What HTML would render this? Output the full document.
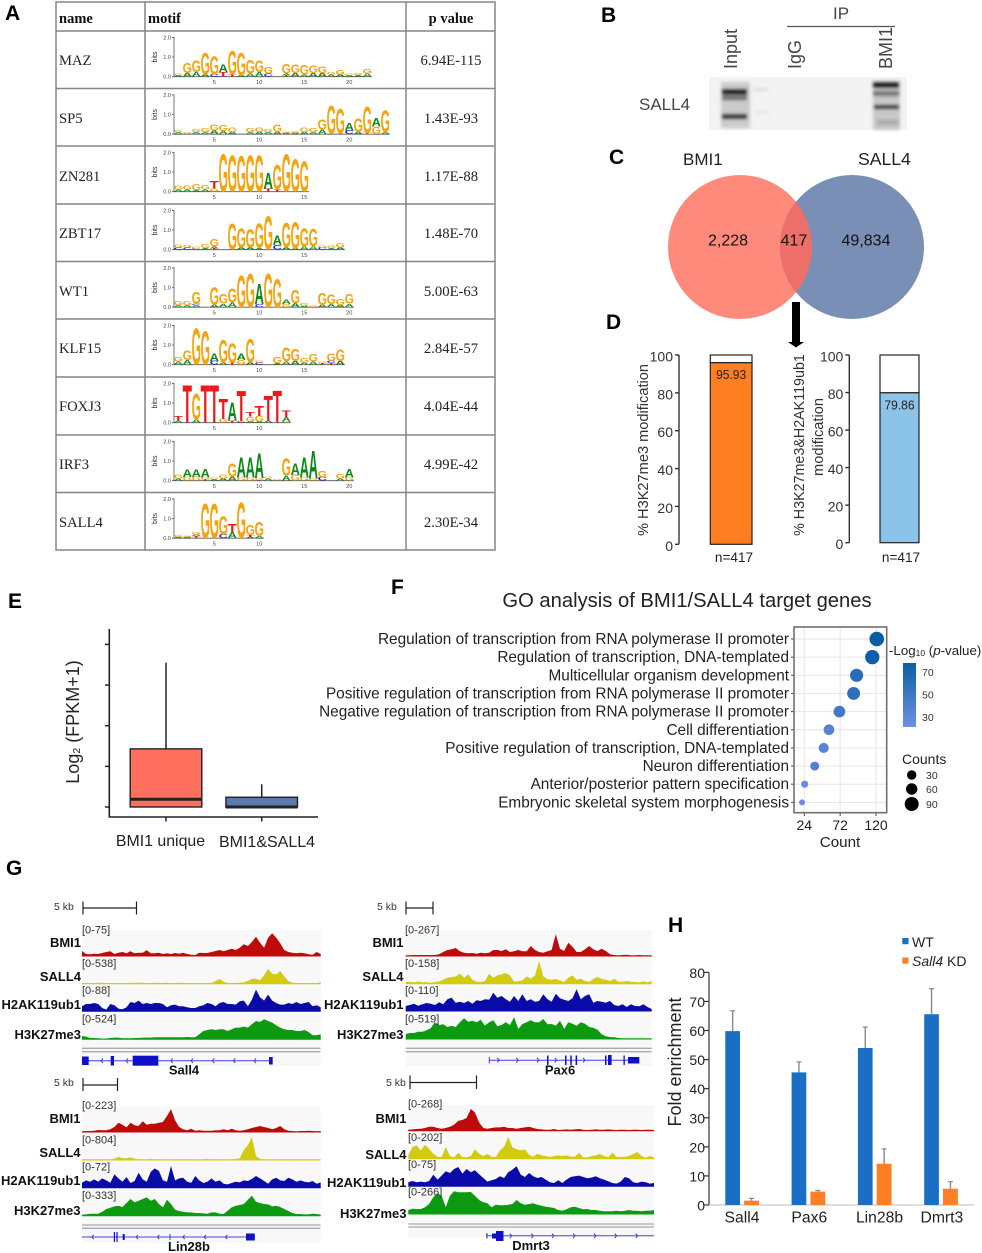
<!DOCTYPE html>
<html lang="en">
<head>
<meta charset="utf-8">
<title>BMI1 and SALL4 figure</title>
<style>
html,body{margin:0;padding:0;background:#fff;}
svg{display:block;font-family:"Liberation Sans",sans-serif;}
.serif{font-family:"Liberation Serif",serif;}
.panel{font-weight:bold;font-size:21px;fill:#000;}
.row{font-family:"Liberation Serif",serif;font-size:14.6px;fill:#222;}
.pv{font-family:"Liberation Serif",serif;font-size:14.7px;fill:#222;text-anchor:middle;}
.tl{font-weight:bold;font-size:13px;fill:#111;text-anchor:end;}
.rng{font-size:11px;fill:#333;}
.kb{font-size:10.5px;fill:#333;}
.gn{font-weight:bold;font-size:13px;fill:#111;text-anchor:middle;}
</style>
</head>
<body>
<svg id="fig" xmlns="http://www.w3.org/2000/svg" width="982" height="1253" viewBox="0 0 982 1253">
<defs>
<filter id="b1"><feGaussianBlur stdDeviation="1.5"/></filter>
<filter id="b05"><feGaussianBlur stdDeviation="0.3"/></filter>
<linearGradient id="cbar" x1="0" y1="0" x2="0" y2="1"><stop offset="0" stop-color="#0a5fa5"/><stop offset="1" stop-color="#6e90e6"/></linearGradient>
</defs>
<rect width="982" height="1253" fill="#fff"/>

<!-- Panel letters -->
<text class="panel" x="5" y="20">A</text>
<text class="panel" x="601" y="22">B</text>
<text class="panel" x="609" y="164">C</text>
<text class="panel" x="606" y="329">D</text>
<text class="panel" x="8" y="608">E</text>
<text class="panel" x="391" y="594">F</text>
<text class="panel" x="6" y="875">G</text>
<text class="panel" x="668" y="932">H</text>

<!-- A table -->
<g id="motifTable" stroke="#858585" stroke-width="1.5" fill="none">
<rect x="56" y="2" width="439" height="548"/>
<path d="M145 2V550M406 2V550M56 31H495M56 88.5H495M56 146H495M56 204H495M56 261.5H495M56 319H495M56 377H495M56 435H495M56 492.5H495"/>
</g>
<g>
<text class="serif" x="59" y="23" font-weight="bold" font-size="14.5" fill="#111">name</text>
<text class="serif" x="148" y="23" font-weight="bold" font-size="14.5" fill="#111">motif</text>
<text class="serif" x="451" y="23" font-weight="bold" font-size="14.5" fill="#111" text-anchor="middle">p value</text>
<text class="row" x="59" y="65">MAZ</text>
<text class="row" x="59" y="123">SP5</text>
<text class="row" x="59" y="181">ZN281</text>
<text class="row" x="59" y="238">ZBT17</text>
<text class="row" x="59" y="296">WT1</text>
<text class="row" x="59" y="353">KLF15</text>
<text class="row" x="59" y="411">FOXJ3</text>
<text class="row" x="59" y="469">IRF3</text>
<text class="row" x="59" y="527">SALL4</text>
<text class="pv" x="451" y="65">6.94E-115</text>
<text class="pv" x="451" y="123">1.43E-93</text>
<text class="pv" x="451" y="181">1.17E-88</text>
<text class="pv" x="451" y="238">1.48E-70</text>
<text class="pv" x="451" y="296">5.00E-63</text>
<text class="pv" x="451" y="353">2.84E-57</text>
<text class="pv" x="451" y="411">4.04E-44</text>
<text class="pv" x="451" y="469">4.99E-42</text>
<text class="pv" x="451" y="527">2.30E-34</text>
</g>
<g id="logos"></g>

<!-- B blot -->
<g>
<text transform="rotate(-90 737 69)" x="737" y="69" font-size="18" fill="#444">Input</text>
<text transform="rotate(-90 801 69)" x="801" y="69" font-size="18" fill="#444">IgG</text>
<text transform="rotate(-90 892 69)" x="892" y="69" font-size="18" fill="#444">BMI1</text>
<text x="841" y="19" font-size="17" fill="#444" text-anchor="middle">IP</text>
<line x1="787" y1="26.5" x2="895" y2="26.5" stroke="#555" stroke-width="1.2"/>
<text x="639" y="110" font-size="17" fill="#444">SALL4</text>
<rect x="709" y="77" width="198" height="53" fill="#f3f3f3"/>
<g filter="url(#b1)">
<rect x="721" y="82" width="29" height="46" fill="#aaa" opacity=".55"/>
<rect x="722" y="89" width="25" height="6" fill="#1c1c1c"/>
<rect x="722" y="96" width="25" height="4" fill="#666"/>
<rect x="722" y="114" width="25" height="5" fill="#333"/>
<rect x="754" y="88" width="14" height="3" fill="#dcdcdc"/>
<rect x="755" y="111" width="14" height="3" fill="#e4e4e4"/>
<rect x="873" y="81" width="27" height="49" fill="#aaa" opacity=".6"/>
<rect x="873" y="82" width="26" height="6" fill="#151515"/>
<rect x="873" y="91" width="26" height="5" fill="#777"/>
<rect x="874" y="105" width="25" height="4" fill="#2b2b2b"/>
<rect x="877" y="120" width="22" height="5" fill="#aaa"/>
</g>
</g>

<!-- C venn -->
<g>
<text x="683" y="165" font-size="17" fill="#222">BMI1</text>
<text x="858" y="165" font-size="17.6" fill="#222">SALL4</text>
<circle cx="740" cy="247" r="72" fill="#fe8a7c"/>
<circle cx="852" cy="247" r="72" fill="#7a8fb5"/>
<path d="M796 201.7A72 72 0 0 1 796 292.3A72 72 0 0 1 796 201.7Z" fill="#ee6f69"/>
<text x="728" y="245.5" font-size="16" fill="#111" text-anchor="middle">2,228</text>
<text x="794" y="245.5" font-size="16" fill="#111" text-anchor="middle">417</text>
<text x="866" y="245.5" font-size="16" fill="#111" text-anchor="middle">49,834</text>
<path d="M792 302H800V342H804L796 347.5L788 342H792Z" fill="#000"/>
</g>

<!-- D -->
<g id="panelD">
<text transform="rotate(-90 648 450)" x="648" y="450" font-size="14.6" fill="#333" text-anchor="middle">% H3K27me3 modification</text>
<text transform="rotate(-90 804 445)" x="804" y="445" font-size="14.3" fill="#333" text-anchor="middle">% H3K27me3&amp;H2AK119ub1</text>
<text transform="rotate(-90 823 437)" x="823" y="437" font-size="14.6" fill="#333" text-anchor="middle">modification</text>
<text x="734" y="562" font-size="13.6" fill="#222" text-anchor="middle">n=417</text>
<text x="901" y="562" font-size="13.6" fill="#222" text-anchor="middle">n=417</text>
</g>

<!-- E -->
<g id="panelE">
<text transform="rotate(-90 79 722)" x="79" y="722" font-size="18" fill="#222" text-anchor="middle">Log<tspan font-size="10.5" dy="1">2</tspan><tspan dy="-1"> (FPKM+1)</tspan></text>
<text x="160.5" y="846" font-size="15.9" fill="#222" text-anchor="middle">BMI1 unique</text>
<text x="267" y="847" font-size="16" fill="#222" text-anchor="middle">BMI1&amp;SALL4</text>
</g>

<!-- F -->
<g id="panelF">
<text x="687" y="607" font-size="20.2" fill="#222" text-anchor="middle">GO analysis of BMI1/SALL4 target genes</text>
<text x="840" y="847" font-size="15.2" fill="#222" text-anchor="middle">Count</text>
<text x="889" y="655" font-size="13.3" fill="#222">-Log<tspan font-size="8.5" dy="1">10</tspan><tspan dy="-1"> (</tspan><tspan font-style="italic">p</tspan>-value)</text>
<rect x="903" y="663" width="13" height="64" fill="url(#cbar)"/>
<text x="922" y="676" font-size="10.5" fill="#333">70</text>
<text x="922" y="698.5" font-size="10.5" fill="#333">50</text>
<text x="922" y="721" font-size="10.5" fill="#333">30</text>
<text x="902" y="764" font-size="14" fill="#222">Counts</text>
<circle cx="911.7" cy="775" r="4.7" fill="#000"/>
<circle cx="911.7" cy="789" r="5.7" fill="#000"/>
<circle cx="911.7" cy="804" r="7" fill="#000"/>
<text x="926" y="779" font-size="10.5" fill="#333">30</text>
<text x="926" y="793" font-size="10.5" fill="#333">60</text>
<text x="926" y="808" font-size="10.5" fill="#333">90</text>
</g>

<!-- G -->
<g id="panelG">
<rect x="82" y="930" width="238.7" height="136" fill="#f8f8f8"/>
<rect x="405.7" y="930" width="246" height="136" fill="#f8f8f8"/>
<rect x="82" y="1107" width="238.7" height="136" fill="#f8f8f8"/>
<rect x="408.3" y="1105" width="245.7" height="132" fill="#f8f8f8"/>

<path d="M83 901.5V914.5M83 908H136.5M136.5 901.5V914.5" stroke="#222" stroke-width="1.2" fill="none"/>
<text class="kb" x="54" y="910">5 kb</text>
<path d="M406 901.5V914.5M406 908H433M433 901.5V914.5" stroke="#222" stroke-width="1.2" fill="none"/>
<text class="kb" x="377" y="910">5 kb</text>
<path d="M83 1078V1091M83 1085H117.5M117.5 1078V1091" stroke="#222" stroke-width="1.2" fill="none"/>
<text class="kb" x="54" y="1086">5 kb</text>
<path d="M410 1075.5V1089M410 1082.5H476.5M476.5 1075.5V1089" stroke="#222" stroke-width="1.2" fill="none"/>
<text class="kb" x="386" y="1086">5 kb</text>

<g id="tracks"></g>

<text class="rng" x="82" y="933.5">[0-75]</text>
<text class="rng" x="82" y="967">[0-538]</text>
<text class="rng" x="82" y="994">[0-88]</text>
<text class="rng" x="82" y="1022.5">[0-524]</text>
<text class="tl" x="81" y="947">BMI1</text>
<text class="tl" x="81" y="981">SALL4</text>
<text class="tl" x="81" y="1009">H2AK119ub1</text>
<text class="tl" x="81" y="1039">H3K27me3</text>

<text class="rng" x="405" y="933.5">[0-267]</text>
<text class="rng" x="405" y="967">[0-158]</text>
<text class="rng" x="405" y="994">[0-110]</text>
<text class="rng" x="405" y="1022.5">[0-519]</text>
<text class="tl" x="403.5" y="947">BMI1</text>
<text class="tl" x="403.5" y="981">SALL4</text>
<text class="tl" x="403.5" y="1009">H2AK119ub1</text>
<text class="tl" x="403.5" y="1039">H3K27me3</text>

<text class="rng" x="82" y="1109">[0-223]</text>
<text class="rng" x="82" y="1143.5">[0-804]</text>
<text class="rng" x="82" y="1170.5">[0-72]</text>
<text class="rng" x="82" y="1199">[0-333]</text>
<text class="tl" x="80.5" y="1123">BMI1</text>
<text class="tl" x="80.5" y="1157">SALL4</text>
<text class="tl" x="80.5" y="1185">H2AK119ub1</text>
<text class="tl" x="80.5" y="1215">H3K27me3</text>

<text class="rng" x="408" y="1107.5">[0-268]</text>
<text class="rng" x="408" y="1141">[0-202]</text>
<text class="rng" x="408" y="1168">[0-75]</text>
<text class="rng" x="408" y="1195.5">[0-266]</text>
<text class="tl" x="406.5" y="1123">BMI1</text>
<text class="tl" x="406.5" y="1159">SALL4</text>
<text class="tl" x="406.5" y="1187">H2AK119ub1</text>
<text class="tl" x="406.5" y="1218">H3K27me3</text>

<path d="M82 1048.3H320.5M82 1051.7H320.5M405.7 1048.3H651.7M405.7 1051.7H651.7M82 1225H320.5M82 1228.3H320.5M408.3 1224H654M408.3 1227H654" stroke="#aaa" stroke-width="1.3" fill="none"/>

<g fill="#1010c8">
<g>
<path d="M82 1060.7H272" stroke="#4444e0" stroke-width="1" fill="none"/>
<path d="M103 1058.5L101 1060.7L103 1063M128 1058.5L126 1060.7L128 1063M157 1058.5L155 1060.7L157 1063M172.7 1058.5L170.7 1060.7L172.7 1063M193 1058.5L191 1060.7L193 1063M214.3 1058.5L212.3 1060.7L214.3 1063M235.3 1058.5L233.3 1060.7L235.3 1063M256 1058.5L254 1060.7L256 1063" stroke="#4444e0" stroke-width="1" fill="none"/>
<rect x="82" y="1056.5" width="6.7" height="8.5"/><rect x="110.7" y="1056" width="3.3" height="9.5"/><rect x="132.7" y="1055.7" width="25.6" height="10"/><rect x="269" y="1057" width="3.7" height="7.5"/>
</g>
<g>
<path d="M489.3 1060.3H639" stroke="#4444e0" stroke-width="1" fill="none"/>
<path d="M489.3 1057V1063.5M497.3 1058L499.3 1060.3L497.3 1062.5M516.3 1058L518.3 1060.3L516.3 1062.5M537 1058L539 1060.3L537 1062.5M554.7 1058L556.7 1060.3L554.7 1062.5M583 1058L585 1060.3L583 1062.5" stroke="#4444e0" stroke-width="1" fill="none"/>
<rect x="547" y="1055.5" width="1.5" height="9.5"/><rect x="565" y="1055.5" width="1.5" height="9.5"/><rect x="570.3" y="1055.5" width="1.5" height="9.5"/><rect x="575.6" y="1055.5" width="1.5" height="9.5"/><rect x="605" y="1055.5" width="1.5" height="9.5"/><rect x="608" y="1055" width="3.6" height="10"/><rect x="623.5" y="1055.5" width="1.3" height="9.5"/><rect x="628" y="1057" width="11.3" height="6.5"/>
</g>
<g>
<path d="M82 1237H255" stroke="#4444e0" stroke-width="1" fill="none"/>
<path d="M93.7 1235L91.7 1237L93.7 1239.2M138 1235L136 1237L138 1239.2M159.3 1235L157.3 1237L159.3 1239.2M184.7 1235L182.7 1237L184.7 1239.2M206 1235L204 1237L206 1239.2M227.3 1235L225.3 1237L227.3 1239.2M170 1234V1240" stroke="#4444e0" stroke-width="1" fill="none"/>
<rect x="113.8" y="1232" width="1.2" height="10"/><rect x="116.4" y="1232" width="1.2" height="10"/><rect x="122.7" y="1234" width="2" height="6"/><rect x="246" y="1233.5" width="8.8" height="7"/>
</g>
<g>
<path d="M486.7 1235.7H654" stroke="#4444e0" stroke-width="1" fill="none"/>
<path d="M509.7 1233.5L511.7 1235.7L509.7 1238M531.3 1233.5L533.3 1235.7L531.3 1238M552 1233.5L554 1235.7L552 1238M573 1233.5L575 1235.7L573 1238M594 1233.5L596 1235.7L594 1238M614.7 1233.5L616.7 1235.7L614.7 1238M635.7 1233.5L637.7 1235.7L635.7 1238" stroke="#4444e0" stroke-width="1" fill="none"/>
<rect x="486.4" y="1233" width="1" height="5.5"/><rect x="492" y="1233.5" width="5" height="5"/><rect x="496" y="1231" width="7.5" height="10"/>
</g>
</g>
<text class="gn" x="184" y="1074.5">Sall4</text>
<text class="gn" x="560" y="1074.5">Pax6</text>
<text class="gn" x="189" y="1251">Lin28b</text>
<text class="gn" x="531" y="1250">Dmrt3</text>
</g>

<!-- H -->
<g id="panelH">
<text transform="rotate(-90 681 1062)" x="681" y="1062" font-size="18" fill="#222" text-anchor="middle">Fold enrichment</text>
<rect x="902.3" y="938" width="6.2" height="6.2" fill="#1a6fc4"/>
<text x="912" y="947" font-size="14" fill="#222">WT</text>
<rect x="902.3" y="957.5" width="6.2" height="6.2" fill="#ff7f27"/>
<text x="912" y="966" font-size="14" fill="#222"><tspan font-style="italic">Sall4</tspan> KD</text>
</g>

<script>
// ---------- chart data ----------
const logoMAZ = ["A.05 G.1","A.2 G.55","A.25 G.6","A.12 G1.15","C.12 G.95","C.03 T.2 A.42","T.1 G1.25","A.05 G1.2","A.15 G.7","A.25 G.6","C.15 G.35","","T.05 A.1 G.5","A.2 G.45","A.1 G.5","A.2 G.4","A.2 G.35","A.1 G.12","A.12 G.25","A.05 G.1","A.08 G.1","A.15 G.22"];
const logoSP5 = ["A.1 G.1","A.04 G.06","A.1 G.15","A.1 G.2","A.2 G.3","A.15 G.3","A.12 G.25","A.02 G.04","A.1 G.2","A.12 G.22","A.1 G.18","A.12 G.42","A.06 G.06","A.05 G.1","A.12 G.22","A.1 G.2","A.25 G.55","A.03 G1.45","T.03 G1.3","C.2 A.4","A.12 G.7","T.05 G1.4","G.4 A.45","A.1 G1.15"];
const logoZN281 = ["A.1 G.2","A.1 G.2","A.08 G.3","A.1 G.25","G.15 T.4","G1.95","G1.9","G1.85","G1.9","G1.9","T.15 A.8","T.1 G1.3","G1.95","G1.7","G1.6"];
const logoZBT17 = ["C.1 G.15","C.1 G.12","C.05 G.1","A.08 G.2","T.05 A.1 G.4","","A.02 G1.35","A.12 G1.0","A.12 G.95","A.08 G1.3","G1.75","C.25 A.5","A.12 G1.3","A.05 G1.4","A.15 G.95","A.15 G.9","C.12 G.1","A.08 G.12","A.12 G.22"];
const logoWT1 = ["A.1 G.2","A.1 G.2","A.1 C.08 G.6","","A.12 G.9","A.18 G.5","A.25 G.75","G1.65","G1.75","C.15 A1.05","G1.75","G1.45","G.15 A.25","A.2 G.7","A.05 G.15","G.05","A.12 G.65","A.15 G.5","A.12 G.3","A.18 G.5"];
const logoKLF15 = ["A.15 G.25","A.25 G.5","G1.9","G1.75","C.2 A.4","A.1 G1.2","T.1 G1.0","G.25 A.35","A.12 G1.25","C.1 G.1","","A.08 G.3","A.15 G.75","A.2 G.65","A.1 G.25","A.15 G.4","T.08 G.05","T.08 C.12 G.4","A.2 G.6"];
const logoFOXJ3 = ["A.1 T.25","T1.95","A.15 G1.35","T1.95","T1.95","G.2 T1.05","T.1 A.95","C.08 T1.6","A.07 G.25 T.25","A.05 G.3 T.55","A.1 T1.3","T1.65","G.05 A.25 T.35"];
const logoIRF3 = ["A.1 G.2","G.2 A.4","G.2 A.4","T.05 G.1 A.45","A.05 G.1","A.12 G.2","A.2 G.7","G.15 A1.05","G.15 A1.05","T.03 G.1 A1.3","A.1 G.1","A.02 G.05","A.25 G.9","G.3 A.6","G.15 A1.05","G.1 A1.45","C.2 G.3","","A.1 G.25","G.15 A.45"];
const logoSALL4 = ["A.05 G.1","A.05 G.08","T.1 A.1 G.12","G1.8","G1.8","C.2 G.95","A.3 T.45","G1.85","A.07 T.1 G.55","A.1 G.75"];

const percentTicks = [0,20,40,60,80,100];
const h3k27me3Percent = 95.93;
const doubleMarkPercent = 79.86;

const boxCategories = ["BMI1 unique","BMI1&SALL4"];
const boxQ1 = [0,0];
const boxMedian = [0.19,0];
const boxQ3 = [1.43,0.24];
const boxWhisker = [3.55,0.56];
const boxTicks = [0,1,2,3,4];

const goTerms = ["Regulation of transcription from RNA polymerase II promoter","Regulation of transcription, DNA-templated","Multicellular organism development","Positive regulation of transcription from RNA polymerase II promoter","Negative regulation of transcription from RNA polymerase II promoter","Cell differentiation","Positive regulation of transcription, DNA-templated","Neuron differentiation","Anterior/posterior pattern specification","Embryonic skeletal system morphogenesis"];
const goCounts = [121,115,94,90,71,57,50,38,24.5,21];
const goLogP = [75,73,58,55,45,36,34,38,26,24];
const goXTicks = [24,72,120];

const sall4Bmi1 = [15,6,5,7,6,9,12,14,6,10,12,8,14,8,10,10,17,8,8,10,6,8,6,9,7,10,6,4,3,10,9,9,12,15,18,14,18,22,18,25,35,30,42,58,40,25,55,68,55,38,18,12,10,8,10,8,5,4,12,6];
const sall4Sall4 = [2,2,2,2,3,3,2,2,2,2,2,2,3,2,3,3,2,2,3,2,2,3,2,2,3,2,2,2,2,2,2,2,2,8,14,6,2,2,2,3,4,8,15,15,10,25,45,30,28,38,22,8,3,2,2,2,2,2,2,4];
const sall4H2a = [15,22,22,25,22,10,5,22,18,8,6,12,28,25,32,22,25,22,25,25,22,12,18,20,15,15,12,10,10,15,18,25,22,15,25,28,22,22,20,30,32,15,35,65,42,32,50,32,25,20,20,25,22,28,22,25,28,15,18,12];
const sall4H3k = [10,8,4,4,3,2,2,4,5,5,3,3,3,4,4,5,5,5,6,6,6,6,6,6,6,6,7,6,6,15,25,28,30,28,30,30,25,30,35,35,38,35,45,55,52,60,55,50,42,35,30,28,28,25,25,28,22,12,12,15];

const pax6Bmi1 = [2,2,3,3,3,3,3,3,5,12,18,20,24,14,10,8,9,7,10,8,10,18,18,15,20,12,14,18,14,14,30,18,12,10,14,18,65,22,15,40,28,12,12,20,30,20,15,22,15,5,3,2,3,4,2,2,3,2,2,2];
const pax6Sall4 = [5,6,4,7,4,5,3,5,7,12,18,20,22,30,18,28,12,6,5,8,30,18,25,28,32,25,6,8,10,22,15,25,68,22,14,12,14,10,5,18,25,12,15,8,6,14,20,14,12,8,15,6,6,8,6,5,4,7,4,8];
const pax6H2a = [15,18,22,16,20,24,22,18,26,20,35,40,25,28,24,30,22,32,30,35,34,55,40,45,35,28,45,30,50,30,35,28,30,50,35,28,52,38,34,30,38,65,35,45,50,25,30,28,25,30,18,15,20,12,20,15,14,20,12,6];
const pax6H3k = [15,18,18,22,22,26,32,50,42,44,36,40,36,50,62,52,55,50,58,40,50,56,38,42,50,42,65,30,45,50,56,50,50,60,44,45,40,55,30,50,46,40,50,46,36,34,28,14,8,6,5,3,2,2,2,2,2,2,2,2];

const lin28bBmi1 = [2,3,3,4,6,5,5,8,15,28,22,14,28,20,18,32,22,25,25,28,30,48,68,35,15,8,5,10,4,5,4,4,4,5,5,8,5,10,5,4,5,8,12,15,18,15,12,8,12,18,8,4,3,2,3,3,4,3,2,3];
const lin28bSall4 = [2,2,2,2,2,2,2,2,4,10,5,5,8,4,2,2,2,3,2,2,2,2,2,2,2,2,2,2,2,2,2,3,2,2,2,2,2,2,3,5,30,45,68,12,3,2,2,2,2,2,2,2,2,2,2,2,2,2,2,2];
const lin28bH2a = [15,22,18,25,18,28,22,15,40,28,18,32,14,20,45,25,18,48,58,50,22,18,65,22,28,30,18,15,35,22,14,18,28,18,22,12,10,14,18,16,22,20,26,35,28,20,12,25,30,22,20,30,25,18,22,18,16,20,12,16];
const lin28bH3k = [3,4,6,6,6,12,20,24,28,30,26,38,50,40,45,50,55,45,50,35,25,48,35,18,14,12,10,10,8,8,7,6,10,10,6,5,15,25,30,32,35,48,60,42,38,35,34,28,30,26,20,14,8,5,5,4,4,6,5,3];

const dmrt3Bmi1 = [3,4,5,6,8,12,12,8,6,8,12,18,30,32,38,65,55,25,8,6,8,10,10,12,8,8,6,8,10,12,8,5,4,3,3,5,2,3,4,3,4,5,3,2,3,4,3,3,4,3,2,3,3,2,3,3,2,3,3,2];
const dmrt3Sall4 = [12,35,40,25,42,30,15,6,5,35,8,4,18,5,4,8,28,15,8,14,6,5,25,35,65,35,28,25,28,12,6,15,10,8,5,8,10,8,10,6,6,18,4,4,8,10,14,8,5,18,6,5,6,8,14,20,8,3,8,4];
const dmrt3H2a = [12,16,12,14,12,16,35,20,32,45,40,52,58,38,52,42,48,36,25,14,18,22,30,25,42,50,60,35,28,40,30,25,28,20,12,10,18,10,20,28,30,32,28,24,26,30,24,20,15,10,8,14,28,24,12,10,14,12,8,10];
const dmrt3H3k = [12,16,15,15,20,30,50,62,55,20,55,68,65,65,65,66,55,42,35,32,20,28,26,26,28,30,42,32,28,30,32,28,25,22,20,18,12,10,14,20,22,18,14,15,12,12,10,8,8,8,10,8,10,12,10,10,8,10,10,12];

const chipGenes = ["Sall4","Pax6","Lin28b","Dmrt3"];
const chipWT = [59.8,45.6,54,65.6];
const chipKD = [1.5,4.6,14.2,5.6];
const chipWTTop = [66.8,49.2,61.2,74.4];
const chipKDTop = [2.3,5,19.3,8];
const chipTicks = [0,10,20,30,40,50,60,70,80];

// ---------- helpers ----------
const NS = "http://www.w3.org/2000/svg";
function mk(tag, attrs, parent){
  const n = document.createElementNS(NS, tag);
  for (const k in attrs) n.setAttribute(k, attrs[k]);
  parent.appendChild(n);
  return n;
}
function line(parent, x1, y1, x2, y2, stroke, w){
  return mk('line',{x1:x1,y1:y1,x2:x2,y2:y2,stroke:stroke,'stroke-width':w},parent);
}
const LOGO_COLORS = {G:"#f6a40e",A:"#0b8a18",T:"#ee1414",C:"#2626e0"};
const LOGO_W = {G:.778,A:.722,T:.611,C:.722};

// ---------- A: motif logos ----------
const logosRoot = document.getElementById('logos');
function drawLogo(stacks, name, rowTop){
  const g = mk('g',{filter:'url(#b05)'},logosRoot);
  
  
  const y0 = rowTop + 45.7, bit = 19.7;
  const px = p => 169.3 + 9*p;
  const last = px(stacks.length)+4.5;
  const axis = mk('path',{d:`M172 ${y0}H174V${y0-2*bit}H172M172 ${y0-bit}H174M174 ${y0}H${last}`,stroke:'#555','stroke-width':.8,fill:'none'},g);
  
  
  for (const v of [0,1,2]){
    const t = mk('text',{x:171,y:y0-v*bit+2,'font-size':5.6,fill:'#444','text-anchor':'end'},g);
    t.textContent = v.toFixed(1);
    
    
  }
  const bits = mk('text',{transform:`rotate(-90 157 ${y0-bit})`,x:157,y:y0-bit,'font-size':7,fill:'#333','text-anchor':'middle'},g);
  bits.textContent = 'bits';
  
  
  for (let p=5;p<=stacks.length;p+=5){
    const t = mk('text',{x:px(p),y:y0+7.5,'font-size':5.6,fill:'#444','text-anchor':'middle'},g);
    t.textContent = p;
    
    
  }
  stacks.forEach((s,i)=>{
    if(!s) return;
    let base = y0;
    s.split(' ').forEach(tok=>{
      const ch = tok[0], h = parseFloat(tok.slice(1))*bit;
      const fs = 10, sx = 9.3/(LOGO_W[ch]*fs), sy = h/(0.72*fs);
      const t = mk('text',{transform:`translate(${px(i+1)} ${base}) scale(${sx} ${sy})`,'font-size':fs,'font-weight':'bold','text-anchor':'middle',fill:LOGO_COLORS[ch]},g);
      t.textContent = ch;
      
      
      base -= h;
    });
  });
}
drawLogo(logoMAZ,'MAZ',31);
drawLogo(logoSP5,'SP5',88.5);
drawLogo(logoZN281,'ZN281',146);
drawLogo(logoZBT17,'ZBT17',204);
drawLogo(logoWT1,'WT1',261.5);
drawLogo(logoKLF15,'KLF15',319);
drawLogo(logoFOXJ3,'FOXJ3',377);
drawLogo(logoIRF3,'IRF3',435);
drawLogo(logoSALL4,'SALL4',492.5);

// ---------- D: stacked percentage bars ----------
const panelD = document.getElementById('panelD');
function drawPercentBar(value, axisX, barL, barR, yTop, yZero, fill){
  const y = v => yZero - v/100*(yZero-yTop);
  const ax = line(panelD, axisX, y(0), axisX, y(100), '#333', 1.4);
  
  
  percentTicks.forEach(v=>{
    const tk = line(panelD, axisX-4, y(v), axisX, y(v), '#333', 1.4);
    
    
    const lb = mk('text',{x:axisX-6,y:y(v)+6.5,'font-size':14,fill:'#333','text-anchor':'end'},panelD);
    lb.textContent = v;
    
    
  });
  const rest = mk('rect',{x:barL,y:y(100),width:barR-barL,height:y(value)-y(100),fill:'#fff',stroke:'#222','stroke-width':1.2},panelD);
  
  
  const bar = mk('rect',{x:barL,y:y(value),width:barR-barL,height:y(0)-y(value),fill:fill,stroke:'#222','stroke-width':1.2},panelD);
  
  
  const vl = mk('text',{x:(barL+barR)/2,y:y(value)+16.5,'font-size':13,fill:'#222','text-anchor':'middle',textLength:30,lengthAdjust:'spacingAndGlyphs'},panelD);
  vl.textContent = value;
  
  
}
drawPercentBar(h3k27me3Percent,679,710.3,752,355,544.3,'#ff7f20');
drawPercentBar(doubleMarkPercent,849.3,880,919,355,542.7,'#8cc3e8');

// ---------- E: box plot ----------
const panelE = document.getElementById('panelE');
const eY = v => 807 - v*40.65;
const eAxes = mk('path',{d:'M109.3 629V817H318',stroke:'#222','stroke-width':1.6,fill:'none'},panelE);


boxTicks.forEach(v=>{
  const t = line(panelE,105,eY(v),109.3,eY(v),'#222',1.5);
  
  
});
const boxFills = ['#ff6f5e','#5a7aad'];
boxCategories.forEach((c,i)=>{
  const cx = 166 + i*95.7, hw = 35.8;
  const tk = line(panelE,cx,817,cx,821.5,'#222',1.5);
  
  
  const wh = line(panelE,cx,eY(boxQ3[i]),cx,eY(boxWhisker[i]),'#222',1.5);
  
  
  const bx = mk('rect',{x:cx-hw,y:eY(boxQ3[i]),width:2*hw,height:eY(boxQ1[i])-eY(boxQ3[i]),fill:boxFills[i],stroke:'#222','stroke-width':1.4},panelE);
  
  
  const md = line(panelE,cx-hw,eY(boxMedian[i]),cx+hw,eY(boxMedian[i]),'#222',3);
  
  
});

// ---------- F: GO dot plot ----------
const panelF = document.getElementById('panelF');
const fX = c => 804.3 + (c-24)*0.747;
const fY = i => 639 + i*18.15;
const fR = c => 3 + 4.3*Math.pow(Math.max(0,c-21)/100,0.6);
function fColor(p){
  const t = Math.max(0,Math.min(1,(p-24)/(75-24)));
  const a=[109,140,226], b=[10,92,165];
  return `rgb(${a.map((v,k)=>Math.round(v+(b[k]-v)*t)).join(',')})`;
}
const fBg = mk('rect',{x:794,y:627,width:92.7,height:185.7,fill:'#fff'},panelF);


goXTicks.forEach(v=>{
  const g = line(panelF,fX(v),627,fX(v),812.7,'#e6e6e6',1);
  
  
  const t = line(panelF,fX(v),812.7,fX(v),816,'#444',1);
  
  
  const l = mk('text',{x:fX(v),y:830,'font-size':14,fill:'#222','text-anchor':'middle'},panelF);
  l.textContent = v;
  
  
});
goTerms.forEach((term,i)=>{
  const g = line(panelF,794,fY(i),886.7,fY(i),'#e6e6e6',1);
  
  
  const t = line(panelF,791,fY(i),794,fY(i),'#444',1);
  
  
  const l = mk('text',{x:789,y:fY(i)+5,'font-size':15.35,fill:'#222','text-anchor':'end'},panelF);
  l.textContent = term;
  
  
  const d = mk('circle',{cx:fX(goCounts[i]),cy:fY(i),r:fR(goCounts[i]),fill:fColor(goLogP[i])},panelF);
  
  
});
const fBorder = mk('rect',{x:794,y:627,width:92.7,height:185.7,fill:'none',stroke:'#707070','stroke-width':1.6},panelF);



// ---------- G: signal tracks ----------
const tracksRoot = document.getElementById('tracks');
function drawTrack(values, x0, x1, base, color){
  const step = (x1-x0)/(values.length-1);
  const tx = i => x0 + i*step;
  const ty = v => base - v/3;
  let d = `M${x0} ${base}`;
  values.forEach((v,i)=>{ d += `L${tx(i).toFixed(1)} ${ty(v).toFixed(1)}`; });
  d += `L${x1} ${base}Z`;
  const p = mk('path',{d:d,fill:color},tracksRoot);
  
  
  const b = line(tracksRoot,x0,base,x1,base,color,1);
  
  
}
const RED='#bf0a0a', YEL='#d3cb12', BLU='#0a0aa8', GRN='#0c9a10';
drawTrack(sall4Bmi1,82,320.7,956,RED);
drawTrack(sall4Sall4,82,320.7,983.7,YEL);
drawTrack(sall4H2a,82,320.7,1011.3,BLU);
drawTrack(sall4H3k,82,320.7,1039.3,GRN);
drawTrack(pax6Bmi1,405.7,651.7,956,RED);
drawTrack(pax6Sall4,405.7,651.7,983.7,YEL);
drawTrack(pax6H2a,405.7,651.7,1011,BLU);
drawTrack(pax6H3k,405.7,651.7,1039,GRN);
drawTrack(lin28bBmi1,82,320.7,1132,RED);
drawTrack(lin28bSall4,82,320.7,1160,YEL);
drawTrack(lin28bH2a,82,320.7,1187.7,BLU);
drawTrack(lin28bH3k,82,320.7,1215.7,GRN);
drawTrack(dmrt3Bmi1,408.3,654,1130.7,RED);
drawTrack(dmrt3Sall4,408.3,654,1158.7,YEL);
drawTrack(dmrt3H2a,408.3,654,1186.3,BLU);
drawTrack(dmrt3H3k,408.3,654,1214,GRN);

// ---------- H: fold enrichment ----------
const panelH = document.getElementById('panelH');
const hY = v => 1205 - v*2.908;
const hAxisY = line(panelH,709,hY(0),709,hY(80),'#333',1.2);


const hAxisX = line(panelH,709,hY(0),974,hY(0),'#bbb',1);


chipTicks.forEach(v=>{
  const t = line(panelH,704,hY(v),709,hY(v),'#333',1.2);
  
  
  const l = mk('text',{x:705,y:hY(v)+5.5,'font-size':14,fill:'#222','text-anchor':'end'},panelH);
  l.textContent = v;
  
  
});
function hBar(x,w,v,top,fill){
  const e = line(panelH,x+w/2,hY(v),x+w/2,hY(top),'#888',1.4);
  
  
  const c = line(panelH,x+w/2-2.5,hY(top),x+w/2+2.5,hY(top),'#888',1.2);
  
  
  const r = mk('rect',{x:x,y:hY(v),width:w,height:hY(0)-hY(v),fill:fill},panelH);
  
  
}
chipGenes.forEach((g,i)=>{
  const x = 725.3 + i*66.3;
  hBar(x,14.7,chipWT[i],chipWTTop[i],'#1a6fc4');
  hBar(x+18.8,14.9,chipKD[i],chipKDTop[i],'#ff7f27');
  const l = mk('text',{x:x+ [16.7,17.7,21.6,17.7][i],y:1222.7,'font-size':15.7,fill:'#222','text-anchor':'middle'},panelH);
  l.textContent = g;
  
  
});
</script>
</svg>
</body>
</html>
